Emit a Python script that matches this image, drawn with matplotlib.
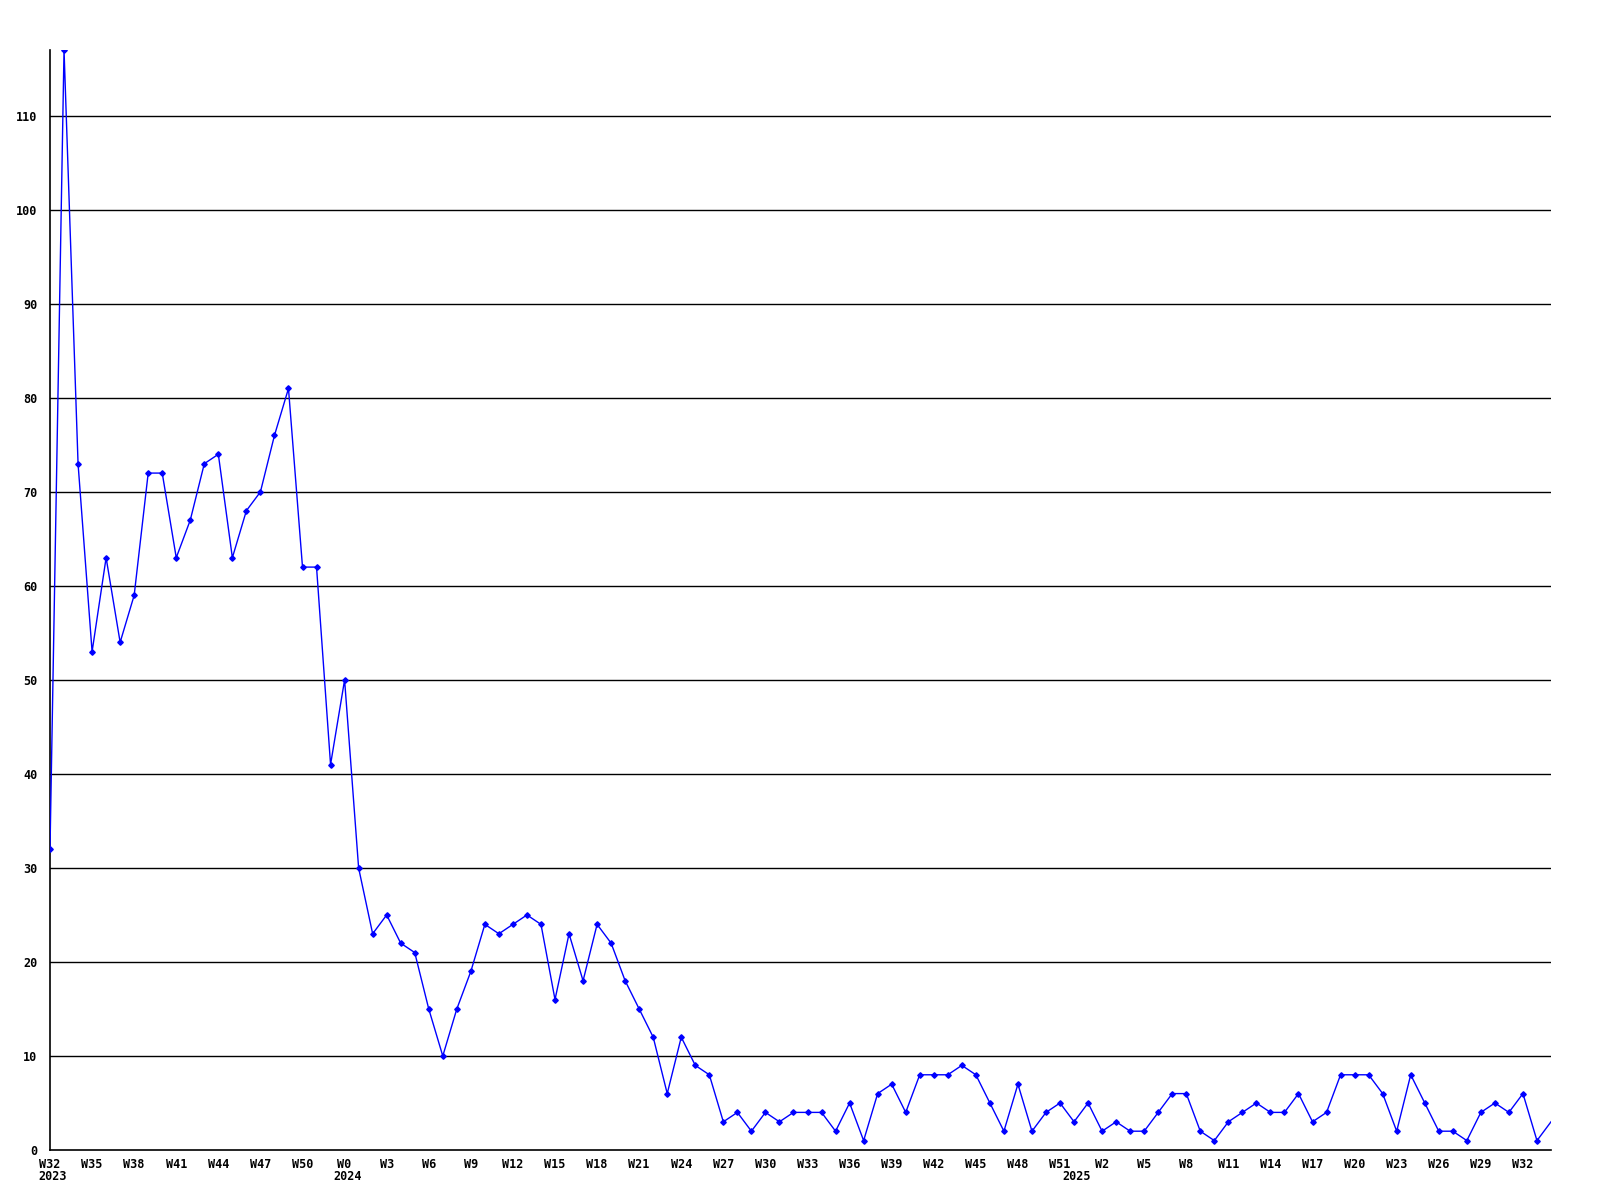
import matplotlib
matplotlib.use('Agg')
import matplotlib.pyplot as plt
import matplotlib.transforms as mtransforms

# weekly counts, W32 2023 .. W34 2025
values = [32, 117, 73, 53, 63, 54, 59, 72, 72, 63,
          67, 73, 74, 63, 68, 70, 76, 81, 62, 62,
          41, 50, 30, 23, 25, 22, 21, 15, 10, 15,
          19, 24, 23, 24, 25, 24, 16, 23, 18, 24,
          22, 18, 15, 12, 6, 12, 9, 8, 3, 4,
          2, 4, 3, 4, 4, 4, 2, 5, 1, 6,
          7, 4, 8, 8, 8, 9, 8, 5, 2, 7,
          2, 4, 5, 3, 5, 2, 3, 2, 2, 4,
          6, 6, 2, 1, 3, 4, 5, 4, 4, 6,
          3, 4, 8, 8, 8, 6, 2, 8, 5, 2,
          2, 1, 4, 5, 4, 6, 1, 3]
weeks = list(range(32, 53)) + list(range(0, 52)) + list(range(0, 35))
years = ['2023', '2024', '2025']
year_start = [0, 21, 73]
yticks = list(range(0, 120, 10))

x = list(range(len(values)))

fig = plt.figure(figsize=(16, 12), dpi=100)
ax = fig.add_axes([50 / 1600, 50 / 1200, 1501 / 1600, 1100 / 1200])

for v in yticks[1:]:
    ax.axhline(v, color='black', lw=1, zorder=1)

# last point sits on the edge, drawn without a marker
ax.plot(x, values, color='#0000ff', lw=1, marker='D', markersize=2.8,
        markevery=list(range(len(values) - 1)), zorder=3)

ax.set_xlim(0, len(values) - 1)
ax.set_ylim(0, max(values))

font = dict(family='DejaVu Sans Mono', weight='bold', size=8.5)
ax.set_yticks(yticks)
ax.set_yticklabels([str(v) for v in yticks], **font)
tick_idx = x[::3]
ax.set_xticks(tick_idx)
ax.set_xticklabels(['W%d' % weeks[i] for i in tick_idx], **font)
ax.tick_params(length=0, pad=9)
ax.tick_params(axis='x', pad=6)

trans = mtransforms.blended_transform_factory(ax.transData, ax.transAxes)
for yr, i in zip(years, year_start):
    ax.text(i + 0.2, -0.0245, yr, transform=trans, ha='center', va='center', **font)

for s in ['top', 'right']:
    ax.spines[s].set_visible(False)
for s in ['left', 'bottom']:
    ax.spines[s].set_color('black')
    ax.spines[s].set_linewidth(1.2)

fig.savefig('out.png', dpi=100)
